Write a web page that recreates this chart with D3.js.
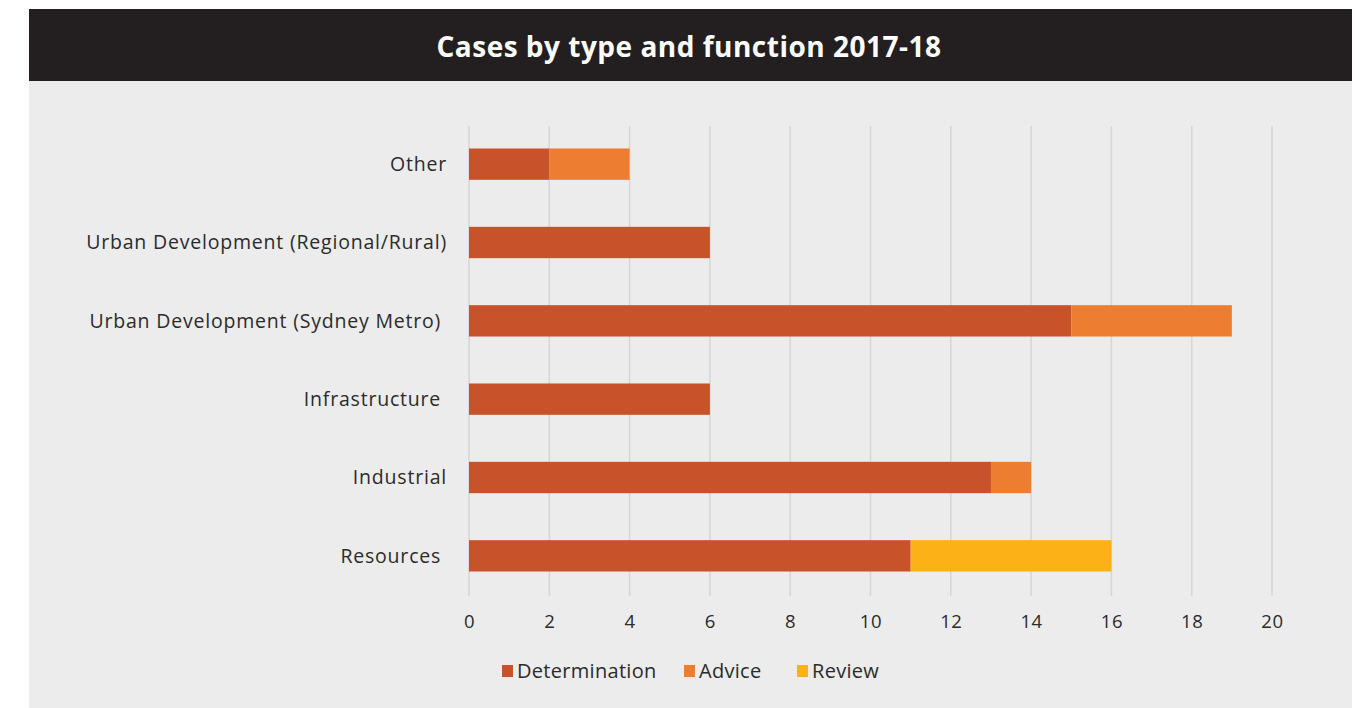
<!DOCTYPE html>
<html>
<head>
<meta charset="utf-8">
<script src="https://cdn.jsdelivr.net/npm/d3@7"></script>
<style>
  body { margin: 0; background: #fff; }
  text { font-family: "Open Sans", Lato, sans-serif; }
</style>
</head>
<body>
<svg id="chart" width="1366" height="708"></svg>
<script>
// Chart data
var categories = ['Other', 'Urban Development (Regional/Rural)', 'Urban Development (Sydney Metro) ',
  'Infrastructure ', 'Industrial', 'Resources '];
var determination = [2, 6, 15, 6, 13, 11];
var advice = [2, 0, 4, 0, 1, 0];
var review = [0, 0, 0, 0, 0, 5];
var seriesNames = ['Determination', 'Advice', 'Review'];
var seriesColors = ['#c8532a', '#ec7d31', '#fcb116'];
var xTicks = [0, 2, 4, 6, 8, 10, 12, 14, 16, 18, 20];

var svg = d3.select('#chart');

// Background panel and title bar
svg.append('rect').attr('x', 29).attr('y', 81).attr('width', 1323).attr('height', 627).attr('fill', '#ebeceb');
svg.append('rect').attr('x', 29).attr('y', 9).attr('width', 1323).attr('height', 72).attr('fill', '#231f20');
svg.append('text')
  .attr('x', 689).attr('y', 57)
  .attr('text-anchor', 'middle')
  .attr('fill', '#fff')
  .attr('font-size', 28)
  .attr('font-weight', 700)
  .attr('letter-spacing', 0.5)
  .text('Cases by type and function 2017-18');

// Scales
var x = d3.scaleLinear().domain([0, 20]).range([469, 1272]);
var y = d3.scaleBand().domain(categories).range([125, 595]).paddingInner(0.6).paddingOuter(0.3);

// Gridlines
svg.append('g').selectAll('line')
  .data(xTicks)
  .enter().append('line')
  .attr('x1', function(d) { return x(d); })
  .attr('x2', function(d) { return x(d); })
  .attr('y1', 126).attr('y2', 596)
  .attr('stroke', '#d6d6d6')
  .attr('stroke-width', 1.5);

// Stack the series
var rows = categories.map(function(c, i) {
  return { cat: c, Determination: determination[i], Advice: advice[i], Review: review[i] };
});
var stacked = d3.stack().keys(seriesNames)(rows);

svg.append('g').selectAll('g')
  .data(stacked)
  .enter().append('g')
  .attr('fill', function(d, i) { return seriesColors[i]; })
  .selectAll('rect')
  .data(function(d) { return d; })
  .enter().append('rect')
  .attr('x', function(d) { return x(d[0]); })
  .attr('width', function(d) { return x(d[1]) - x(d[0]); })
  .attr('y', function(d) { return y(d.data.cat); })
  .attr('height', y.bandwidth());

// Category labels
svg.append('g').selectAll('text')
  .data(categories)
  .enter().append('text')
  .attr('x', 447)
  .attr('y', function(d) { return y(d) + y.bandwidth() / 2; })
  .attr('dy', '0.35em')
  .attr('text-anchor', 'end')
  .attr('fill', '#2b2b2b')
  .attr('font-size', 19.5)
  .attr('letter-spacing', 0.8)
  .style('white-space', 'pre')
  .text(function(d) { return d; });

// X axis labels
var xAxis = d3.axisBottom(x).tickValues(xTicks).tickSize(0).tickPadding(0);
var gx = svg.append('g').attr('transform', 'translate(0,615)').call(xAxis);
gx.select('.domain').remove();
gx.selectAll('text')
  .attr('fill', '#2b2b2b')
  .attr('font-size', 18.5)
  .attr('dy', '0.71em')
  .attr('letter-spacing', 0.6)
  .style('font-family', '"Open Sans", Lato, sans-serif');

// Legend
var legendX = [502, 684, 797];
var legend = svg.append('g').selectAll('g')
  .data(seriesNames)
  .enter().append('g')
  .attr('transform', function(d, i) { return 'translate(' + legendX[i] + ',665)'; });
legend.append('rect')
  .attr('width', 11).attr('height', 12)
  .attr('fill', function(d, i) { return seriesColors[i]; });
legend.append('text')
  .attr('x', 15).attr('y', 12.5)
  .attr('fill', '#2b2b2b')
  .attr('font-size', 20)
  .attr('letter-spacing', 0.3)
  .text(function(d) { return d; });
</script>
</body>
</html>
